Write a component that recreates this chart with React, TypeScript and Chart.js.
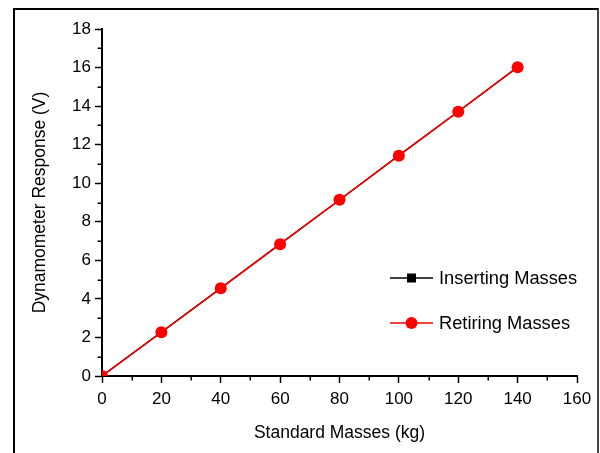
import React, { useEffect, useRef } from "react";
import { Chart, registerables } from "chart.js";

Chart.register(...registerables);

const masses = [0, 20, 40, 60, 80, 100, 120, 140];
const inserting = [0, 2.28, 4.56, 6.85, 9.13, 11.44, 13.72, 16.02];
const retiring = [0, 2.27, 4.55, 6.84, 9.14, 11.43, 13.71, 16.02];
const xMinorTicks = [10, 30, 50, 70, 90, 110, 130, 150];
const yMinorTicks = [1, 3, 5, 7, 9, 11, 13, 15, 17];
const seriesNames = ["Inserting Masses", "Retiring Masses"];
const xTitle = "Standard Masses (kg)";
const yTitle = "Dynamometer Response (V)";

const FONT = "'Liberation Sans', Arial, Helvetica, sans-serif";

const extrasPlugin = {
  id: "extras",
  afterDraw(chart: any) {
    const { ctx, chartArea, scales } = chart;
    const xs = scales.x;
    const ys = scales.y;
    ctx.save();
    ctx.strokeStyle = "#000";
    ctx.lineWidth = 1.5;
    ctx.beginPath();
    for (const v of xMinorTicks) {
      const px = Math.round(xs.getPixelForValue(v)) + 0.25;
      ctx.moveTo(px, chartArea.bottom);
      ctx.lineTo(px, chartArea.bottom + 4.5);
    }
    for (const v of yMinorTicks) {
      const py = Math.round(ys.getPixelForValue(v)) + 0.25;
      ctx.moveTo(chartArea.left, py);
      ctx.lineTo(chartArea.left - 4.5, py);
    }
    ctx.stroke();

    // legend
    const rows = [
      { ds: chart.data.datasets[0], y: chartArea.bottom - 98 },
      { ds: chart.data.datasets[1], y: chartArea.bottom - 53 },
    ];
    for (const r of rows) {
      const x0 = chartArea.right - 187;
      const x1 = chartArea.right - 144;
      const cx = (x0 + x1) / 2;
      ctx.strokeStyle = r.ds.borderColor;
      ctx.lineWidth = r.ds.borderWidth;
      ctx.beginPath();
      ctx.moveTo(x0, r.y);
      ctx.lineTo(x1, r.y);
      ctx.stroke();
      ctx.fillStyle = r.ds.pointBackgroundColor;
      if (r.ds.pointStyle === "rect") {
        ctx.fillRect(cx - 4.5, r.y - 4.5, 9, 9);
      } else {
        ctx.beginPath();
        ctx.arc(cx, r.y, 6, 0, Math.PI * 2);
        ctx.fill();
      }
      ctx.fillStyle = "#000";
      ctx.font = `18.3px ${FONT}`;
      ctx.textBaseline = "middle";
      ctx.textAlign = "left";
      ctx.fillText(r.ds.label, chartArea.right - 138, r.y + 1);
    }
    ctx.restore();
  },
};

export default function App() {
  const ref = useRef<HTMLCanvasElement | null>(null);

  useEffect(() => {
    if (!ref.current) return;
    const chart = new Chart(ref.current, {
      type: "line",
      data: {
        labels: masses,
        datasets: [
          {
            label: seriesNames[0],
            data: masses.map((m, i) => ({ x: m, y: inserting[i] })),
            borderColor: "#000",
            backgroundColor: "#000",
            pointBackgroundColor: "#000",
            pointBorderColor: "#000",
            pointStyle: "rect",
            pointRadius: 6,
            pointBorderWidth: 0,
            borderWidth: 1.5,
            order: 2,
            clip: 0,
          },
          {
            label: seriesNames[1],
            data: masses.map((m, i) => ({ x: m, y: retiring[i] })),
            borderColor: "#ff0000",
            backgroundColor: "#ff0000",
            pointBackgroundColor: "#ff0000",
            pointBorderColor: "#ff0000",
            pointStyle: "circle",
            pointRadius: 6,
            pointBorderWidth: 0,
            borderWidth: 1.5,
            order: 1,
            clip: 0,
          },
        ],
      },
      options: {
        animation: false,
        responsive: false,
        events: [],
        layout: { padding: { left: 26, top: 29, right: 23, bottom: 0 } },
        plugins: { legend: { display: false }, tooltip: { enabled: false } },
        scales: {
          x: {
            type: "linear",
            min: 0,
            max: 160,
            afterFit: (s: any) => {
              s.height = 77;
            },
            ticks: {
              stepSize: 20,
              color: "#000",
              padding: 6,
              font: { family: FONT, size: 17 },
              maxRotation: 0,
            },
            grid: {
              drawOnChartArea: false,
              drawTicks: true,
              tickLength: 7,
              tickWidth: 1.5,
              tickColor: "#000",
            },
            border: { display: true, color: "#000", width: 2 },
            title: {
              display: true,
              text: xTitle,
              color: "#000",
              font: { family: FONT, size: 17.5 },
              padding: { top: 4, bottom: 9 },
            },
          },
          y: {
            type: "linear",
            min: 0,
            max: 18,
            afterFit: (s: any) => {
              s.width = 76;
            },
            ticks: {
              stepSize: 2,
              color: "#000",
              padding: 4,
              font: { family: FONT, size: 17 },
            },
            grid: {
              drawOnChartArea: false,
              drawTicks: true,
              tickLength: 7,
              tickWidth: 1.5,
              tickColor: "#000",
            },
            border: { display: true, color: "#000", width: 2 },
            title: {
              display: true,
              text: yTitle,
              color: "#000",
              font: { family: FONT, size: 17.5 },
              padding: { top: 4, bottom: 4 },
            },
          },
        },
      },
      plugins: [extrasPlugin],
    } as any);
    return () => chart.destroy();
  }, []);

  return (
    <div style={{ position: "absolute", left: 0, top: 0, width: 600, height: 453, background: "#fff", overflow: "hidden" }}>
      <canvas ref={ref} width={600} height={453} style={{ position: "absolute", left: 0, top: 0 }} />
      <div
        style={{
          position: "absolute",
          left: 13,
          top: 8,
          width: 582,
          height: 460,
          borderLeft: "2px solid #000",
          borderTop: "2px solid #000",
          borderRight: "2px solid #444",
          pointerEvents: "none",
        }}
      />
    </div>
  );
}
